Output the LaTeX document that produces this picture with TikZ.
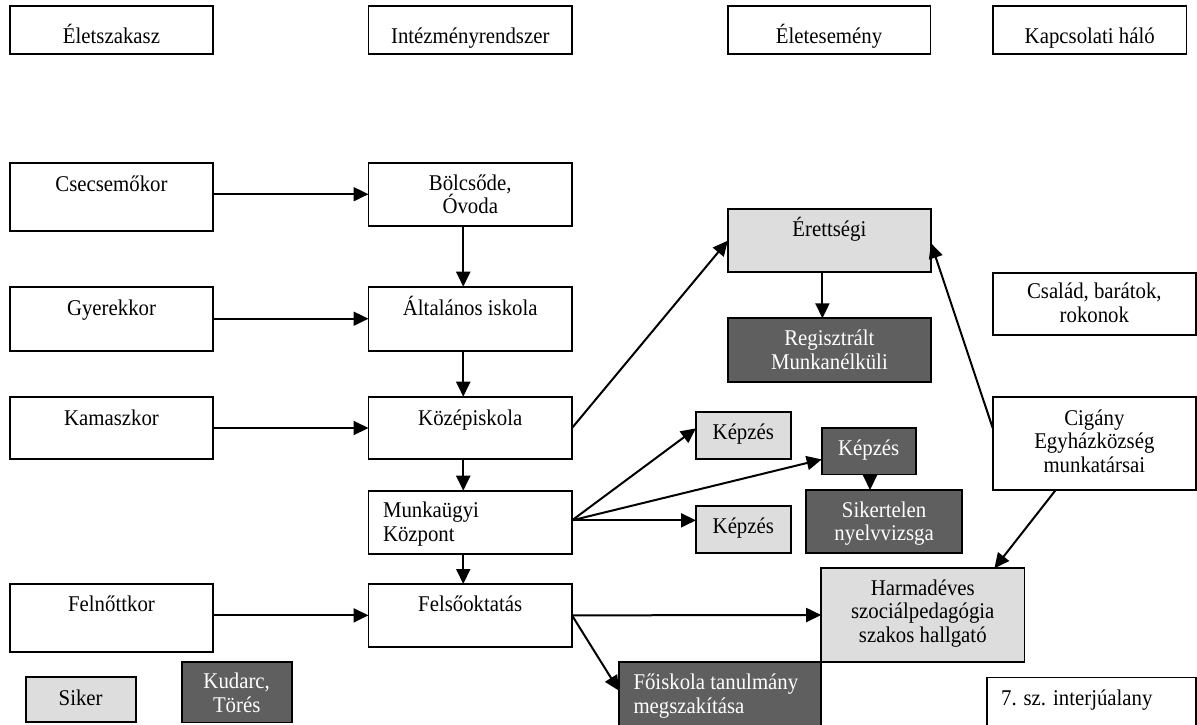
\documentclass[tikz,border=0pt]{standalone}
\usepackage{fontspec}
\setmainfont{Liberation Serif}[FakeStretch=0.925]
\usetikzlibrary{arrows.meta,calc,fit}
\definecolor{lightg}{HTML}{DDDDDD}
\definecolor{darkg}{HTML}{5F5F5F}
\tikzset{
  bx/.style={draw=black, line width=1.8pt, inner sep=0pt, outer sep=0pt},
  wbox/.style={bx, fill=white},
  lbox/.style={bx, fill=lightg},
  dbox/.style={bx, fill=darkg},
  txt/.style={inner sep=0pt, outer sep=0pt, font=\fontsize{22.5}{23.8}\selectfont},
  arr/.style={line width=2pt, -{Triangle[length=15pt,width=14pt]}},
}
% name, x1, y1, x2, y2, style, baseline offset, text colour, text
\newcommand\mkbox[9]{%
  \node[#6, fit={(#2,#3)(#4,#5)}] (#1) {};
  \node[txt, anchor=base, text=#8] (#1-t) at ($(#1.north)+(0,#7)$)
    {\parbox[t]{300pt}{\centering #9}};
}
\newcommand\mkboxl[9]{%
  \node[#6, fit={(#2,#3)(#4,#5)}] (#1) {};
  \node[txt, anchor=base west, text=#8] (#1-t) at ($(#1.north west)+(14.5,#7)$)
    {\parbox[t]{300pt}{\raggedright #9}};
}
\begin{document}
\begin{tikzpicture}[x=1pt, y=-1pt]
\useasboundingbox (0,0) rectangle (1197,724);
\fill[white] (0,0) rectangle (1197,724);

% header row
\mkbox{eletsz}{10}{6}{213}{54}{wbox}{37}{black}{Életszakasz}
\mkbox{intez}{368.5}{6}{572}{54}{wbox}{37}{black}{Intézményrendszer}
\mkbox{eletes}{727.6}{6}{930.5}{54}{wbox}{37}{black}{Életesemény}
\mkbox{kapcs}{993}{6}{1186.5}{54}{wbox}{37}{black}{Kapcsolati háló}

% life stages
\mkbox{csec}{10}{162.7}{213}{230.7}{wbox}{29}{black}{Csecsemőkor}
\mkbox{gyer}{10}{286.7}{213}{350.7}{wbox}{29}{black}{Gyerekkor}
\mkbox{kam}{10}{396.7}{213}{459.3}{wbox}{28.3}{black}{Kamaszkor}
\mkbox{feln}{10}{584}{213}{652}{wbox}{27.7}{black}{Felnőttkor}

% institutions
\mkbox{bolcs}{368.5}{162.7}{572}{225.7}{wbox}{27.3}{black}{Bölcsőde,\\Óvoda}
\mkbox{altal}{368.5}{286.7}{572}{350.7}{wbox}{28.3}{black}{Általános iskola}
\mkbox{kozep}{368.5}{396.7}{572}{459.3}{wbox}{28.3}{black}{Középiskola}
\mkboxl{munka}{368.5}{490.7}{572}{554}{wbox}{26.6}{black}{Munkaügyi\\Központ}
\mkbox{felso}{368.5}{584}{572}{646.7}{wbox}{27.7}{black}{Felsőoktatás}

% events
\mkbox{erett}{727.8}{209.3}{931}{272}{lbox}{27.4}{black}{Érettségi}
\mkbox{regisz}{727.8}{318.3}{931}{381.7}{dbox}{27.4}{white}{Regisztrált\\Munkanélküli}
\mkbox{kepza}{696}{412.3}{790.7}{459}{lbox}{27.5}{black}{Képzés}
\mkbox{kepzb}{821.7}{428.3}{915.7}{474.5}{dbox}{26.7}{white}{Képzés}
\mkbox{sikert}{806}{490}{962.3}{553.3}{dbox}{27}{white}{Sikertelen\\nyelvvizsga}
\mkbox{kepzc}{696}{506}{790.7}{552.7}{lbox}{27.3}{black}{Képzés}
\mkbox{harm}{821.2}{568.3}{1024.4}{661.7}{lbox}{26.7}{black}{Harmadéves\\szociálpedagógia\\szakos hallgató}
\mkboxl{foisk}{619}{661.7}{821.2}{728}{dbox}{27.6}{white}{Főiskola tanulmány\\megszakítása}

% network
\mkbox{csalad}{992.7}{272.7}{1196}{335}{wbox}{26}{black}{Család, barátok,\\rokonok}
\mkbox{cigany}{992.7}{397}{1196}{490}{wbox}{28}{black}{Cigány\\Egyházközség\\munkatársai}

% legend
\mkbox{siker}{25.7}{677.3}{135.7}{722}{lbox}{27.7}{black}{Siker}
\mkbox{kudarc}{181.7}{662}{291.7}{722.5}{dbox}{26.5}{white}{Kudarc,\\Törés}
\mkboxl{interj}{986.6}{677.5}{1195.8}{728}{wbox}{27.5}{black}{7. sz. interjúalany}

% horizontal arrows
\draw[arr] (csec.east |- bolcs.west) -- (bolcs.west);
\draw[arr] (gyer.east) -- (altal.west);
\draw[arr] (kam.east) -- (kozep.west);
\draw[arr] (feln.east |- felso.west) -- (felso.west);

% vertical arrows
\draw[arr] ($(bolcs.south)+(-7,0)$) -- ($(altal.north)+(-7,0)$);
\draw[arr] ($(altal.south)+(-7,0)$) -- ($(kozep.north)+(-7,0)$);
\draw[arr] ($(kozep.south)+(-7,0)$) -- ($(munka.north)+(-7,0)$);
\draw[arr] ($(munka.south)+(-7,0)$) -- ($(felso.north)+(-7,0)$);

% to events
\draw[arr] (kozep.east) -- (erett.west);
\draw[arr] ($(erett.south)+(-7,0)$) -- ($(regisz.north)+(-7,0)$);
\coordinate (mf) at ($(munka.east)+(0,-2)$);
\draw[arr] (mf) -- ($(kepza.north west)+(0,16)$);
\draw[arr] (mf) -- ($(kepzb.west)+(0,8)$);
\draw[arr] (mf) -- (kepzc.west |- mf);
\draw[arr] ($(kepzb.south)+(1.3,0)$) -- ($(kepzb.south |- sikert.north)+(1.3,0)$);
\draw[arr] (felso.east) -- (harm.west);
\draw[arr] (felso.east) -- ($(foisk.north west)+(0,29)$);

% network arrows
\draw[arr] ($(cigany.north west)+(0,31)$) -- ($(erett.east)+(0,2.5)$);
\draw[arr] ($(cigany.south west)+(63,0)$) -- ($(harm.north east)+(-30,0)$);
\end{tikzpicture}
\end{document}
